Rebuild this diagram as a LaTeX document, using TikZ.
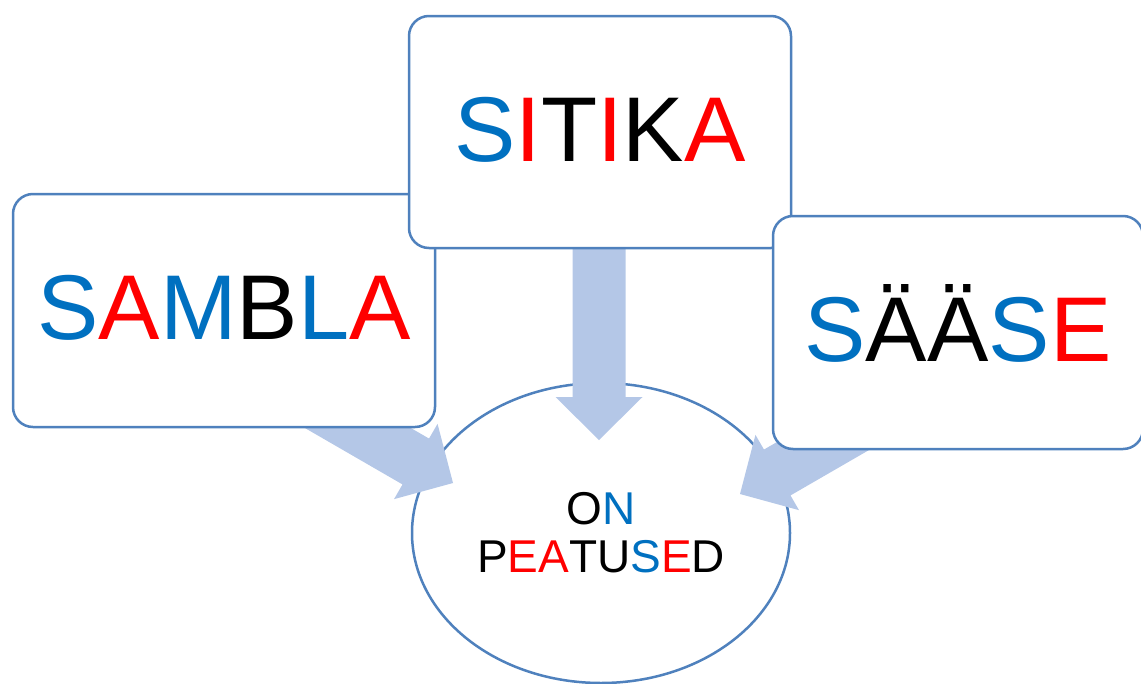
\documentclass[tikz,border=0pt]{standalone}
\usepackage{fontspec}
\setmainfont{Liberation Sans}
\usetikzlibrary{calc, shapes.geometric}
\definecolor{wordblue}{RGB}{0,112,192}
\definecolor{wordred}{RGB}{255,0,0}
\definecolor{edgeblue}{RGB}{79,129,189}
\definecolor{arrowblue}{RGB}{180,199,231}
\newcommand{\wblue}[1]{\textcolor{wordblue}{#1}}
\newcommand{\wred}[1]{\textcolor{wordred}{#1}}
\newcommand{\blockarrow}[2]{%
  \path ($(#2)!43pt!(#1)$) coordinate (hb);
  \fill[arrowfill] ($(#1)!26.5pt!90:(#2)$) -- ($(hb)!26.5pt!90:(#2)$) -- ($(hb)!43.5pt!90:(#2)$) -- (#2)
    -- ($(hb)!43.5pt!-90:(#2)$) -- ($(hb)!26.5pt!-90:(#2)$) -- ($(#1)!26.5pt!-90:(#2)$) -- cycle;}

\begin{document}
\begin{tikzpicture}[x=1pt, y=-1pt,
  box/.style = {draw=edgeblue, line width=2.5pt, fill=white, rounded corners=20pt, minimum height=233pt,
    text height=67pt, text depth=9pt, inner sep=0pt, font=\fontsize{92}{100}\selectfont},
  arrowfill/.style = {fill=arrowblue}]
\useasboundingbox (0,0) rectangle (1141,683);
\node[draw=edgeblue, line width=2.5pt, fill=white, ellipse, minimum width=378pt, minimum height=300pt, inner sep=0pt,
  align=center, font=\fontsize{46}{48}\selectfont] (stop) at (601,533) {O\wblue{N}\\P\wred{EA}TU\wblue{S}\wred{E}D};
\coordinate (tail1) at (280,383);
\coordinate (tip1) at (453,483);
\coordinate (tail2) at (599,230);
\coordinate (tip2) at (599,440);
\coordinate (tail3) at (913,394);
\coordinate (tip3) at (740,494);
\blockarrow{tail1}{tip1}
\blockarrow{tail2}{tip2}
\blockarrow{tail3}{tip3}
\node[box, minimum width=422pt] (sambla) at (224,310.5) {\wblue{S}\wred{A}\wblue{M}B\wblue{L}\wred{A}};
\node[box, minimum width=382pt, minimum height=232pt] (sitika) at (600,132) {\wblue{S}\wred{I}T\wred{I}K\wred{A}};
\node[box, minimum width=370pt] (saase) at (958,332.5) {\wblue{S}ÄÄ\wblue{S}\wred{E}};
\end{tikzpicture}
\end{document}
